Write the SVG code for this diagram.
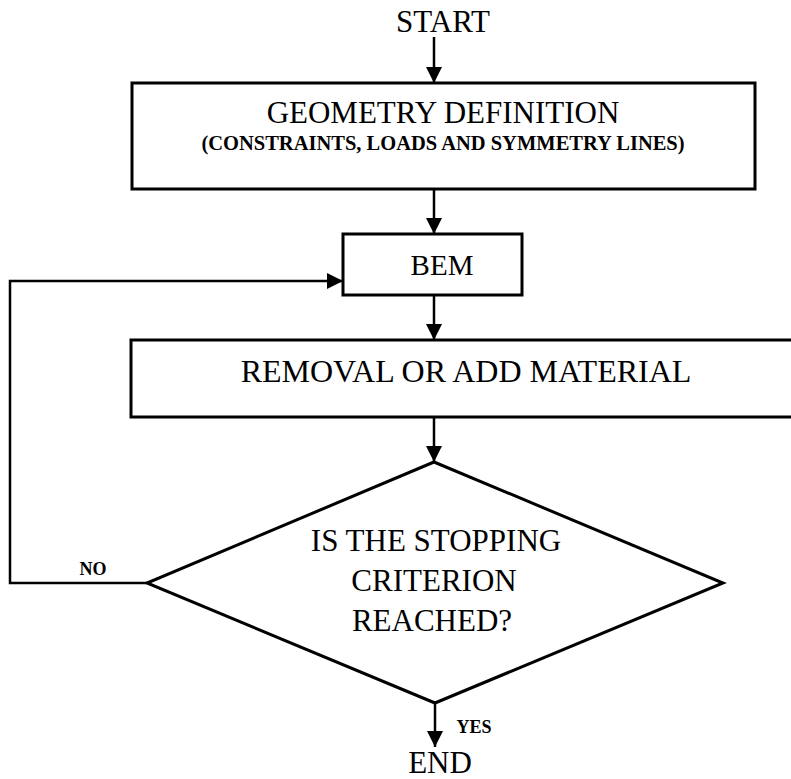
<svg xmlns="http://www.w3.org/2000/svg" width="791" height="779" viewBox="0 0 791 779">
<style>
  text { font-family: "Liberation Serif", "Times New Roman", serif; fill: #000; text-anchor: middle; }
  .box { fill: #fff; stroke: #000; stroke-width: 3; }
  .conn { fill: none; stroke: #000; stroke-width: 2.5; }
  .big { font-size: 31px; }
  .lbl { font-size: 18px; font-weight: bold; }
</style>
<defs>
  <marker id="arr" viewBox="0 0 16 16" refX="16" refY="8" markerWidth="16" markerHeight="16" markerUnits="userSpaceOnUse" orient="auto">
    <path d="M0,0 L16,8 L0,16 Z" fill="#000"/>
  </marker>
</defs>
<rect width="791" height="779" fill="#fff"/>

<g id="start"><text class="big" x="443" y="32">START</text></g>

<g id="geometry">
  <rect class="box" x="132" y="83" width="623" height="106"/>
  <text class="big" x="443" y="123" font-size="32">GEOMETRY DEFINITION</text>
  <text x="443" y="150" font-size="20.5" font-weight="bold">(CONSTRAINTS, LOADS AND SYMMETRY LINES)</text>
</g>

<g id="bem">
  <rect class="box" x="343" y="234" width="179" height="61"/>
  <text x="442" y="275" font-size="29">BEM</text>
</g>

<g id="removal">
  <rect class="box" x="131" y="340" width="700" height="77"/>
  <text x="466" y="382" font-size="32">REMOVAL OR ADD MATERIAL</text>
</g>

<g id="decision">
  <polygon class="box" points="434,462 723,583 435,703 147,583"/>
  <text class="big" x="436" y="551">IS THE STOPPING</text>
  <text class="big" x="434" y="591">CRITERION</text>
  <text class="big" x="432" y="631">REACHED?</text>
</g>

<g id="end"><text class="big" x="440" y="773">END</text></g>

<g id="connectors">
  <line class="conn" x1="434" y1="37" x2="434" y2="83" marker-end="url(#arr)"/>
  <line class="conn" x1="434" y1="189" x2="434" y2="234" marker-end="url(#arr)"/>
  <line class="conn" x1="434" y1="295" x2="434" y2="340" marker-end="url(#arr)"/>
  <line class="conn" x1="434" y1="417" x2="434" y2="462" marker-end="url(#arr)"/>
  <line class="conn" x1="435" y1="703" x2="435" y2="747" marker-end="url(#arr)"/>
  <polyline class="conn" points="147,583 10,583 10,281 343,281" marker-end="url(#arr)"/>
  <text class="lbl" x="93" y="575">NO</text>
  <text class="lbl" x="474" y="733">YES</text>
</g>
</svg>
